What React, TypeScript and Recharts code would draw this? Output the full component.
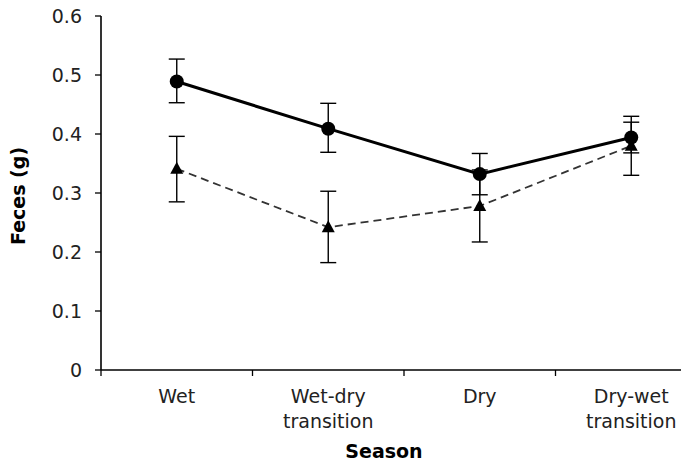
import { ErrorBar, Label, Line, LineChart, XAxis, YAxis } from "recharts";

const seasons = ["Wet", "Wet-dry transition", "Dry", "Dry-wet transition"];
const seasonPos = [0.5, 1.5, 2.5, 3.5];

// circles, solid line
const circleMean = [0.489, 0.409, 0.332, 0.394];
const circleLow = [0.453, 0.369, 0.297, 0.368];
const circleHigh = [0.527, 0.452, 0.367, 0.43];

// triangles, dashed line
const triMean = [0.341, 0.242, 0.278, 0.38];
const triLow = [0.285, 0.182, 0.217, 0.33];
const triHigh = [0.396, 0.303, 0.339, 0.42];

const yTicks = [0, 0.1, 0.2, 0.3, 0.4, 0.5, 0.6];
// band edges get a tick mark, band centres get the season name
const xTicks = [0, 0.5, 1, 1.5, 2, 2.5, 3, 3.5, 4];

const data = seasons.map((season, i) => ({
  season,
  pos: seasonPos[i],
  circle: circleMean[i],
  circleErr: [circleMean[i] - circleLow[i], circleHigh[i] - circleMean[i]],
  tri: triMean[i],
  triErr: [triMean[i] - triLow[i], triHigh[i] - triMean[i]],
}));

const FONT = "'DejaVu Sans', Verdana, sans-serif";

function SeasonTick(props: any) {
  const { x, y, payload } = props;
  const v = payload.value as number;
  if (Number.isInteger(v)) {
    return <line x1={x} y1={y} x2={x} y2={y + 6} stroke="#000" strokeWidth={1.3} />;
  }
  const idx = seasonPos.indexOf(v);
  if (idx < 0) return null;
  const lines = seasons[idx].split(" ");
  return (
    <text x={x} y={y + 33} textAnchor="middle" fontFamily={FONT} fontSize={19} fill="#222">
      {lines.map((l, i) => (
        <tspan key={i} x={x} dy={i === 0 ? 0 : 25}>
          {l}
        </tspan>
      ))}
    </text>
  );
}

function Triangle(props: any) {
  const { cx, cy } = props;
  if (cx == null || cy == null) return null;
  return (
    <polygon
      points={`${cx},${cy - 7} ${cx - 6.5},${cy + 5} ${cx + 6.5},${cy + 5}`}
      fill="#000"
    />
  );
}

export default function App() {
  return (
    <div style={{ position: "absolute", left: 0, top: 0, width: 681, height: 462, overflow: "hidden", background: "#fff" }}>
      <LineChart width={720} height={462} data={data} margin={{ top: 16, right: 13, left: 41, bottom: 32 }}>
        <XAxis
          dataKey="pos"
          type="number"
          domain={[0, 4]}
          allowDataOverflow
          ticks={xTicks}
          interval={0}
          height={60}
          tickSize={0}
          tickMargin={0}
          tickLine={false}
          axisLine={{ stroke: "#000", strokeWidth: 1.6 }}
          tick={<SeasonTick />}
        >
          <Label
            content={(p: any) => {
              const vb = p.viewBox;
              return (
                <text
                  x={vb.x + vb.width / 2 - 20}
                  y={vb.y + 88}
                  textAnchor="middle"
                  fontFamily={FONT}
                  fontSize={19}
                  fontWeight="bold"
                  fill="#000"
                >
                  Season
                </text>
              );
            }}
          />
        </XAxis>
        <YAxis
          width={60}
          domain={[0, 0.6]}
          ticks={yTicks}
          tickFormatter={(v: number) => String(v)}
          tickSize={6}
          tickMargin={13}
          axisLine={{ stroke: "#000", strokeWidth: 1.6 }}
          tickLine={{ stroke: "#000", strokeWidth: 1.3 }}
          tick={{ fontFamily: FONT, fontSize: 19, fill: "#222" }}
        >
          <Label
            content={(p: any) => {
              const vb = p.viewBox;
              const cx = vb.x - 23;
              const cy = vb.y + vb.height / 2 + 3;
              return (
                <text
                  x={cx}
                  y={cy}
                  transform={`rotate(-90, ${cx}, ${cy})`}
                  textAnchor="middle"
                  dominantBaseline="central"
                  fontFamily={FONT}
                  fontSize={19}
                  fontWeight="bold"
                  fill="#000"
                >
                  Feces (g)
                </text>
              );
            }}
          />
        </YAxis>
        <Line
          dataKey="tri"
          stroke="#333"
          strokeWidth={1.8}
          strokeDasharray="8 5"
          dot={<Triangle />}
          activeDot={false}
          isAnimationActive={false}
        >
          <ErrorBar dataKey="triErr" direction="y" width={8} stroke="#000" strokeWidth={1.4} />
        </Line>
        <Line
          dataKey="circle"
          stroke="#000"
          strokeWidth={3}
          dot={{ r: 7, fill: "#000", stroke: "none" }}
          activeDot={false}
          isAnimationActive={false}
        >
          <ErrorBar dataKey="circleErr" direction="y" width={8} stroke="#000" strokeWidth={1.4} />
        </Line>
      </LineChart>
    </div>
  );
}
